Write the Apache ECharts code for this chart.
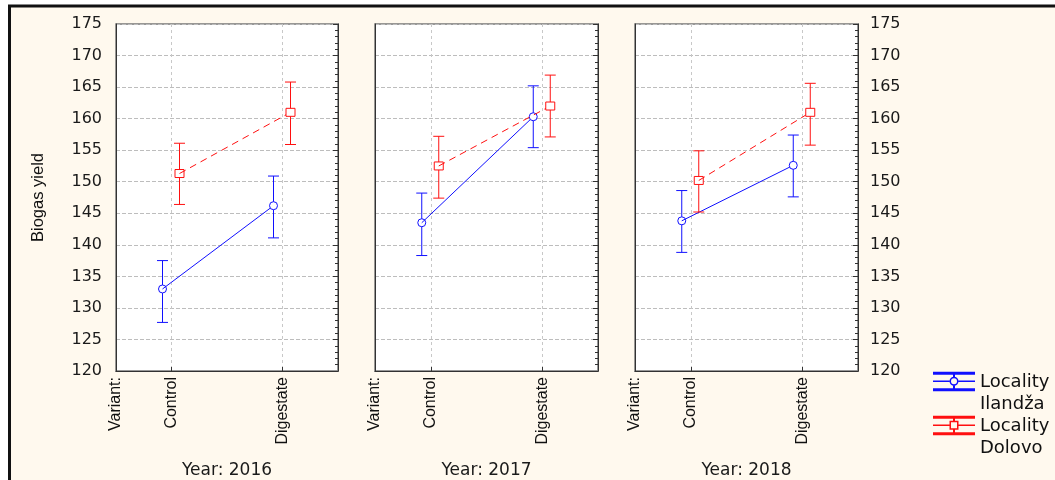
<!DOCTYPE html>
<html>
<head>
<meta charset="utf-8">
<script src="https://cdn.jsdelivr.net/npm/echarts@6/dist/echarts.min.js"></script>
<style>
  html, body { margin: 0; padding: 0; background: #fff; }
  #chart { width: 1055px; height: 480px; }
</style>
</head>
<body>
<div id="chart"></div>
<script>
var categories = ['Control', 'Digestate'];
var years = ['2016', '2017', '2018'];
var yMin = 120, yMax = 175, yStep = 5;

// means and error bar ends, one row per year, one column per variant
var ilandzaMean = [[133.0, 146.2], [143.5, 160.3], [143.8, 152.6]];
var ilandzaLow  = [[127.7, 141.1], [138.3, 155.4], [138.8, 147.6]];
var ilandzaHigh = [[137.5, 150.9], [148.2, 165.2], [148.6, 157.4]];
var dolovoMean  = [[151.3, 161.0], [152.5, 162.0], [150.2, 161.0]];
var dolovoLow   = [[146.4, 155.9], [147.4, 157.1], [145.2, 155.8]];
var dolovoHigh  = [[156.1, 165.8], [157.2, 166.9], [154.9, 165.6]];

var gridLeft = [116, 375, 635];
var gridWidth = [222, 223, 223];

var iconIlandza = 'path://M0 1.5H42V4.5H0Z M0 18H42V21H0Z M20 4.5H22V7H20Z M20 15H22V18H20Z ' +
    'M0 10.3H16.5V11.7H0Z M25.5 10.3H42V11.7H25.5Z ' +
    'M16.5 11A4.5 4.5 0 1 1 25.5 11A4.5 4.5 0 1 1 16.5 11Z M18 11A3 3 0 1 0 24 11A3 3 0 1 0 18 11Z M0 44L0.1 44';
var iconDolovo = 'path://M0 1.5H42V4.5H0Z M0 18H42V21H0Z M20 4.5H22V6.5H20Z M20 15.5H22V18H20Z ' +
    'M0 10.3H16.5V11.7H0Z M25.5 10.3H42V11.7H25.5Z ' +
    'M16.5 6.5H25.5V15.5H16.5Z M18 8V14H24V8Z M0 44L0.1 44';

var localities = [
    {name: 'Locality Ilandža', color: '#1010ff', mean: ilandzaMean, low: ilandzaLow, high: ilandzaHigh,
     shift: -9, marker: 'circle', dash: null, icon: iconIlandza},
    {name: 'Locality Dolovo', color: '#ff1010', mean: dolovoMean, low: dolovoLow, high: dolovoHigh,
     shift: 8, marker: 'square', dash: [7, 5], icon: iconDolovo}
];

var tickFont = {fontFamily: 'DejaVu Sans', fontSize: 16, color: '#1a1a1a'};

function makeRenderer(loc) {
    return function (params, api) {
        var x = api.value(0);
        var p = api.coord([x, api.value(1)]);
        var lo = api.coord([x, api.value(2)]);
        var hi = api.coord([x, api.value(3)]);
        var cx = p[0] + loc.shift;
        var stroke = {stroke: loc.color, lineWidth: 1, fill: null};
        var children = [];
        var prevMean = api.value(4);
        if (!isNaN(prevMean)) {
            var q = api.coord([x - 1, prevMean]);
            children.push({type: 'line', shape: {x1: q[0] + loc.shift, y1: q[1], x2: cx, y2: p[1]},
                style: {stroke: loc.color, lineWidth: 1, lineDash: loc.dash}});
        }
        children.push({type: 'line', shape: {x1: cx, y1: lo[1], x2: cx, y2: hi[1]}, style: stroke});
        children.push({type: 'line', shape: {x1: cx - 5.5, y1: lo[1], x2: cx + 5.5, y2: lo[1]}, style: stroke});
        children.push({type: 'line', shape: {x1: cx - 5.5, y1: hi[1], x2: cx + 5.5, y2: hi[1]}, style: stroke});
        if (loc.marker === 'circle') {
            children.push({type: 'circle', shape: {cx: cx, cy: p[1], r: 4}, style: {fill: '#fff', stroke: loc.color, lineWidth: 1}});
        } else {
            children.push({type: 'rect', shape: {x: cx - 4.5, y: p[1] - 4, width: 9, height: 8}, style: {fill: '#fff', stroke: loc.color, lineWidth: 1}});
        }
        return {type: 'group', children: children};
    };
}

var grids = [], xAxes = [], yAxes = [], series = [];
years.forEach(function (year, g) {
    grids.push({left: gridLeft[g], top: 24, width: gridWidth[g], height: 347,
        show: true, backgroundColor: '#fff', borderColor: '#777', borderWidth: 1.5, outerBoundsMode: 'none'});
    xAxes.push({
        type: 'value', gridIndex: g, min: -0.5, max: categories.length - 0.5,
        axisLine: {show: true, onZero: false, lineStyle: {color: '#333'}},
        axisTick: {show: true, inside: true, length: 4, customValues: categories.map(function (c, i) { return i; }),
            lineStyle: {color: '#333'}},
        axisLabel: {customValues: [-0.5].concat(categories.map(function (c, i) { return i; })),
            rotate: 90, margin: 6, fontFamily: 'Liberation Sans', fontSize: 16, color: '#111',
            formatter: function (v) { return v < 0 ? 'Variant:' : categories[Math.round(v)]; }},
        splitLine: {show: true, lineStyle: {color: '#c8c8c8', type: [3, 3]}},
        name: 'Year: ' + year, nameLocation: 'middle', nameGap: 91,
        nameTextStyle: {fontFamily: 'DejaVu Sans', fontSize: 17, color: '#1a1a1a'}
    });
    yAxes.push({
        type: 'value', gridIndex: g, min: yMin, max: yMax, interval: yStep, position: 'left',
        axisLine: {show: true, onZero: false, lineStyle: {color: '#333'}},
        axisTick: {show: false},
        axisLabel: Object.assign({show: g === 0, margin: 14}, tickFont),
        splitLine: {show: true, lineStyle: {color: '#bdbdbd', type: [4, 2]}},
        name: g === 0 ? 'Biogas yield' : '', nameLocation: 'middle', nameGap: 69, nameRotate: 90,
        nameTextStyle: {fontFamily: 'Liberation Sans', fontSize: 16.5, color: '#111'}
    });
    yAxes.push({
        type: 'value', gridIndex: g, min: yMin, max: yMax, interval: yStep, position: 'right',
        axisLine: {show: true, onZero: false, lineStyle: {color: '#333'}},
        axisTick: {show: true, inside: true, length: 5, lineStyle: {color: '#333'}},
        minorTick: {show: true, splitNumber: 5, length: 3, lineStyle: {color: '#333'}},
        axisLabel: Object.assign({show: g === 2, margin: 12}, tickFont),
        splitLine: {show: false}
    });
    localities.forEach(function (loc) {
        series.push({
            type: 'custom', name: loc.name, xAxisIndex: g, yAxisIndex: 2 * g,
            itemStyle: {color: loc.color}, z: 10,
            renderItem: makeRenderer(loc),
            data: categories.map(function (c, j) {
                return [j, loc.mean[g][j], loc.low[g][j], loc.high[g][j], j > 0 ? loc.mean[g][j - 1] : NaN];
            })
        });
    });
});

var chart = echarts.init(document.getElementById('chart'));
chart.setOption({
    backgroundColor: '#fff9ee',
    animation: false,
    graphic: [
        {type: 'rect', shape: {x: 0, y: 0, width: 1055, height: 5}, style: {fill: '#fff'}},
        {type: 'rect', shape: {x: 0, y: 0, width: 8, height: 480}, style: {fill: '#fff'}},
        {type: 'line', shape: {x1: 8, y1: 6, x2: 1055, y2: 6}, style: {stroke: '#111', lineWidth: 3}},
        {type: 'line', shape: {x1: 9.5, y1: 5, x2: 9.5, y2: 480}, style: {stroke: '#111', lineWidth: 3}}
    ],
    legend: {
        orient: 'vertical', left: 928, top: 366, itemWidth: 42, itemHeight: 44, itemGap: 0,
        selectedMode: false,
        textStyle: {fontFamily: 'DejaVu Sans', fontSize: 18, color: '#111', lineHeight: 22},
        formatter: function (n) { return n.replace(' ', '\n'); },
        data: localities.map(function (loc) { return {name: loc.name, icon: loc.icon}; })
    },
    grid: grids,
    xAxis: xAxes,
    yAxis: yAxes,
    series: series
});
</script>
</body>
</html>
